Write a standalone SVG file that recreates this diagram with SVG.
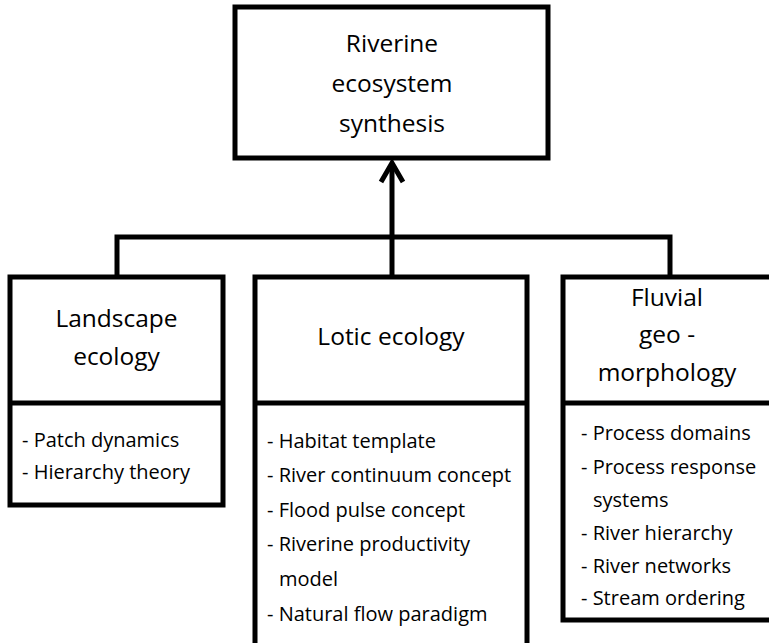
<svg xmlns="http://www.w3.org/2000/svg" width="769" height="643" viewBox="0 0 769 643">
<style>
.box{fill:#fff;stroke:#000;stroke-width:5}
.div{stroke:#000;stroke-width:5}
.con{fill:none;stroke:#000;stroke-width:5}
.t{font-family:"Open Sans","Noto Sans",sans-serif;font-size:24.5px;fill:#000;text-anchor:middle}
.i{font-family:"Open Sans","Noto Sans",sans-serif;font-size:20px;fill:#000}
</style>
<rect width="769" height="643" fill="#fff"/>
<g id="connectors">
<path class="con" d="M117,279 V237 H670 V279"/>
<path class="con" d="M392,279 V164"/>
<path class="con" d="M381,182 L392,163 L403,182" stroke-linejoin="miter"/>
</g>
<g id="synthesis">
<rect class="box" x="235" y="7" width="313" height="151"/>
<text class="t" x="392" y="52">Riverine</text>
<text class="t" x="392" y="92">ecosystem</text>
<text class="t" x="392" y="132">synthesis</text>
</g>
<g id="landscape">
<rect class="box" x="10" y="277" width="213" height="228"/>
<line class="div" x1="10" y1="403" x2="223" y2="403"/>
<text class="t" x="116.5" y="327">Landscape</text>
<text class="t" x="116.5" y="365">ecology</text>
<text class="i" x="22" y="447">- Patch dynamics</text>
<text class="i" x="22" y="479">- Hierarchy theory</text>
</g>
<g id="lotic">
<rect class="box" x="255" y="277" width="272" height="380"/>
<line class="div" x1="255" y1="403" x2="527" y2="403"/>
<text class="t" x="391" y="345">Lotic ecology</text>
<text class="i" x="267" y="448">- Habitat template</text>
<text class="i" x="267" y="482">- River continuum concept</text>
<text class="i" x="267" y="517">- Flood pulse concept</text>
<text class="i" x="267" y="551">- Riverine productivity</text>
<text class="i" x="279" y="586">model</text>
<text class="i" x="267" y="621">- Natural flow paradigm</text>
</g>
<g id="fluvial">
<rect class="box" x="563" y="277" width="210" height="343"/>
<line class="div" x1="563" y1="403" x2="773" y2="403"/>
<text class="t" x="667" y="306">Fluvial</text>
<text class="t" x="667" y="343">geo -</text>
<text class="t" x="667" y="381">morphology</text>
<text class="i" x="581" y="440">- Process domains</text>
<text class="i" x="581" y="474">- Process response</text>
<text class="i" x="593" y="507">systems</text>
<text class="i" x="581" y="540">- River hierarchy</text>
<text class="i" x="581" y="573">- River networks</text>
<text class="i" x="581" y="605">- Stream ordering</text>
</g>
</svg>
